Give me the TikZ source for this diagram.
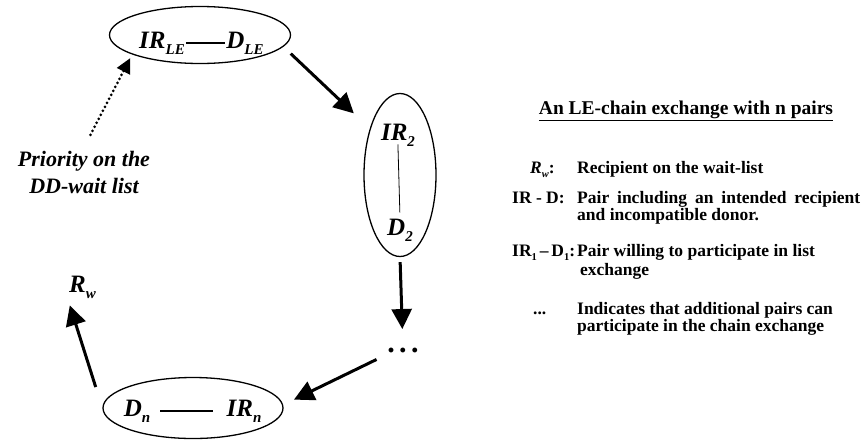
\documentclass[tikz,border=0pt]{standalone}
\usepackage{fontspec}
\setmainfont{Liberation Serif}
\usepackage{graphicx}
\usetikzlibrary{shapes.geometric,arrows.meta}
\newcommand\subs[1]{\raisebox{-0.25em}{\scalebox{0.6}{#1}}}
\begin{document}
\begin{tikzpicture}[x=1pt,y=-1pt,
  pair/.style={draw,ellipse,line width=1.3pt,inner sep=0pt},
  big/.style={font=\fontsize{25}{30}\selectfont\bfseries\itshape,inner sep=1pt,anchor=base},
  flow/.style={line width=3pt,-{Triangle[length=20pt,width=20pt]}},
  txt/.style={font=\fontsize{17.5}{18}\selectfont\bfseries,anchor=base west,inner sep=0pt}]
\useasboundingbox (0,0) rectangle (865,440);
\node[pair,minimum width=181,minimum height=57] (T) at (200,35) {};
\node[pair,minimum width=72,minimum height=163] (R) at (400,175) {};
\node[pair,minimum width=180,minimum height=61] (B) at (193,408) {};
\node[big] (irle) at (162,48) {IR\subs{LE}};
\node[big] (dle) at (245,48) {D\subs{LE}};
\node[big] (ir2) at (398,140) {IR\subs{2}};
\node[big] (d2) at (400,235) {D\subs{2}};
\node[big] (dn) at (137,416) {D\subs{n}};
\node[big] (irn) at (244,416) {IR\subs{n}};
\node[big,anchor=base west] (rw) at (68,292) {R\subs{w}};
\node[font=\fontsize{30}{30}\selectfont\bfseries] (dots) at (403,350) {.\hspace{0.15em}.\hspace{0.15em}.};
\node[font=\fontsize{22}{27}\selectfont\bfseries\itshape,align=center] (prio) at (84,172) {Priority on the\\DD-wait list};
\draw[line width=1.3pt] (irle.east) -- (dle.west);
\draw[line width=0.8pt,shorten <=-3pt,shorten >=5pt] (ir2.south) -- (d2.north);
\draw[line width=1.3pt,shorten <=9pt,shorten >=12pt] (dn.east) -- (irn.west);
\draw[flow,shorten <=10pt,shorten >=22pt] (T.-8) -- (R.123);
\draw[flow,shorten <=5pt,shorten >=15pt] (R.south) -- (dots);
\draw[flow,shorten <=8pt,shorten >=12pt] (dots.south west) -- (B.2);
\draw[flow,shorten <=22pt,shorten >=6pt] (B.west) -- (rw.south west);
\draw[line width=3pt,line cap=round,dash pattern=on 0pt off 4.5pt,shorten <=14pt,shorten >=4pt,
  -{Triangle[length=15pt,width=14pt]}] (prio.north) -- (T.-164);
\node[font=\fontsize{19.5}{20}\selectfont\bfseries,anchor=base,inner sep=0pt] (title) at (686,114)
  {\underline{An LE-chain exchange with n pairs}};
\node[txt] (rwk) at (530,173) {\textit{R}\subs{\textit{w}}:};
\node[txt] (rwd) at (577,173) {Recipient on the wait-list};
\node[txt] (irdk) at (512,203) {IR - D:};
\node[txt] (irda) at (577,203) {\makebox[283pt][s]{Pair including an intended recipient}};
\node[txt] (irdb) at (577,220) {and incompatible donor.};
\node[txt] (ir1k) at (512,256) {IR\subs{1}\,--\,D\subs{1}:};
\node[txt] (ir1a) at (577,256) {Pair willing to participate in list};
\node[txt] (ir1b) at (580,275) {exchange};
\node[txt] (dotk) at (533,314) {...};
\node[txt] (dota) at (577,314) {Indicates that additional pairs can};
\node[txt] (dotb) at (577,331) {participate in the chain exchange};
\end{tikzpicture}
\end{document}
